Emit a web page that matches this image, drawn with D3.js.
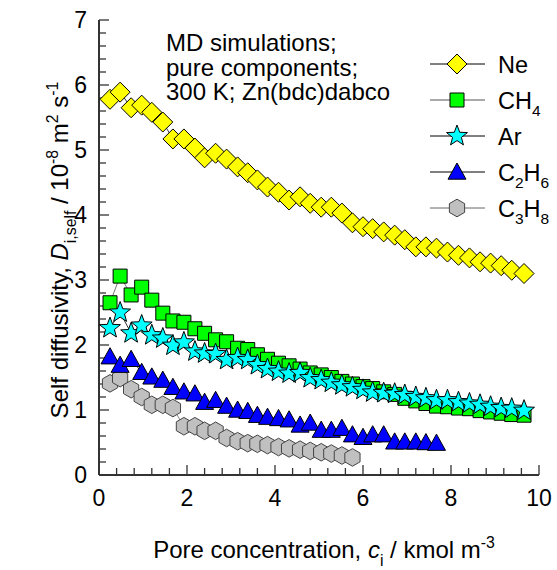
<!DOCTYPE html>
<html>
<head>
<meta charset="utf-8">
<script src="https://cdn.jsdelivr.net/npm/d3@7"></script>
<style>
  body { margin: 0; background: #fff; }
  svg { display: block; font-family: "Liberation Sans", Arial, sans-serif; }
</style>
</head>
<body>
<svg id="chart" width="557" height="570"></svg>
<script>
// Pore concentration grid, kmol m^-3 (shared by all species)
const conc = [0.25, 0.48, 0.73, 0.97, 1.20, 1.45, 1.68, 1.93, 2.18, 2.40,
              2.65, 2.90, 3.15, 3.38, 3.60, 3.83, 4.08, 4.32, 4.57, 4.80,
              5.05, 5.28, 5.52, 5.76, 6.00, 6.22, 6.47, 6.72, 6.95, 7.20,
              7.43, 7.67, 7.92, 8.17, 8.42, 8.66, 8.90, 9.14, 9.38, 9.66];

// Self diffusivities, 10^-8 m^2 s^-1
const dNe   = [5.78, 5.89, 5.65, 5.69, 5.58, 5.43, 5.17, 5.17, 5.03, 4.88,
               4.95, 4.86, 4.74, 4.65, 4.54, 4.43, 4.35, 4.23, 4.28, 4.18,
               4.12, 4.12, 4.03, 3.88, 3.82, 3.79, 3.74, 3.69, 3.62, 3.51,
               3.51, 3.49, 3.43, 3.38, 3.34, 3.28, 3.26, 3.22, 3.15, 3.10];
const dCH4  = [2.65, 3.06, 2.77, 2.89, 2.69, 2.49, 2.37, 2.35, 2.25, 2.18,
               2.08, 2.05, 1.95, 1.93, 1.85, 1.78, 1.72, 1.68, 1.63, 1.57,
               1.54, 1.50, 1.44, 1.40, 1.36, 1.33, 1.28, 1.24, 1.18, 1.14,
               1.10, 1.06, 1.05, 1.03, 1.02, 0.99, 0.97, 0.95, 0.93, 0.92];
const dAr   = [2.26, 2.50, 2.18, 2.30, 2.15, 2.10, 1.99, 2.04, 1.90, 1.87,
               1.86, 1.77, 1.80, 1.77, 1.69, 1.63, 1.59, 1.56, 1.57, 1.49,
               1.46, 1.42, 1.38, 1.35, 1.31, 1.27, 1.26, 1.25, 1.23, 1.20,
               1.18, 1.15, 1.15, 1.12, 1.10, 1.08, 1.05, 1.03, 1.02, 0.99];
const dC2H6 = [1.82, 1.69, 1.78, 1.58, 1.51, 1.46, 1.35, 1.28, 1.25, 1.12,
               1.15, 1.06, 1.00, 0.98, 0.92, 0.89, 0.87, 0.85, 0.77, 0.80,
               0.69, 0.69, 0.72, 0.62, 0.58, 0.62, 0.62, 0.51, 0.51, 0.51,
               0.50, 0.49];
const dC3H8 = [1.41, 1.49, 1.32, 1.20, 1.08, 1.08, 1.03, 0.75, 0.75, 0.68,
               0.68, 0.57, 0.52, 0.49, 0.48, 0.46, 0.43, 0.41, 0.39, 0.37,
               0.35, 0.33, 0.30, 0.27];

const xTicks = [0, 2, 4, 6, 8, 10];
const yTicks = [0, 1, 2, 3, 4, 5, 6, 7];
const noteLines = ["MD simulations;", "pure components;", "300 K; Zn(bdc)dabco"];

// ---- marker shapes -------------------------------------------------------
const shapes = {
  diamond: { draw(ctx, r) { ctx.moveTo(0, -r); ctx.lineTo(r, 0); ctx.lineTo(0, r); ctx.lineTo(-r, 0); ctx.closePath(); } },
  square:  { draw(ctx, r) { ctx.rect(-r, -r, 2 * r, 2 * r); } },
  star:    { draw(ctx, r) {
      const ri = r * 0.42;
      for (let k = 0; k < 10; k++) {
        const a = -Math.PI / 2 + k * Math.PI / 5, rr = k % 2 ? ri : r;
        k ? ctx.lineTo(rr * Math.cos(a), rr * Math.sin(a)) : ctx.moveTo(rr * Math.cos(a), rr * Math.sin(a));
      }
      ctx.closePath();
  } },
  triangle: { draw(ctx, r) { ctx.moveTo(0, -r); ctx.lineTo(r * 1.0, r * 0.8); ctx.lineTo(-r * 1.0, r * 0.8); ctx.closePath(); } },
  hexagon: { draw(ctx, r) {
      for (let k = 0; k < 6; k++) {
        const a = -Math.PI / 2 + k * Math.PI / 3;
        k ? ctx.lineTo(r * Math.cos(a), r * Math.sin(a)) : ctx.moveTo(r * Math.cos(a), r * Math.sin(a));
      }
      ctx.closePath();
  } }
};

const series = [
  { key: "C3H8", label: [["C"], ["3", "sub"], ["H"], ["8", "sub"]], values: dC3H8, shape: "hexagon", r: 8.8, fill: "#c0c0c0", stroke: "#444", line: "#666" },
  { key: "C2H6", label: [["C"], ["2", "sub"], ["H"], ["6", "sub"]], values: dC2H6, shape: "triangle", r: 9, fill: "#0000ff", stroke: "#000", line: "#000" },
  { key: "CH4",  label: [["CH"], ["4", "sub"]], values: dCH4, shape: "square", r: 7, fill: "#00ff00", stroke: "#000", line: "#555" },
  { key: "Ar",   label: [["Ar"]], values: dAr, shape: "star", r: 11, fill: "#00ffff", stroke: "#000", line: "#000" },
  { key: "Ne",   label: [["Ne"]], values: dNe, shape: "diamond", r: 10, fill: "#ffff00", stroke: "#000", line: "#000" }
];
const legendOrder = ["Ne", "CH4", "Ar", "C2H6", "C3H8"];

// ---- layout ---------------------------------------------------------------
const svg = d3.select("#chart");
const x = d3.scaleLinear().domain([0, 10]).range([99, 539]);
const y = d3.scaleLinear().domain([0, 7]).range([475, 20]);
const axisColor = "#333";

// minor + major ticks, drawn inward
const gAxes = svg.append("g").attr("stroke", axisColor).attr("stroke-width", 1.3);
d3.range(0, 10.001, 0.4).forEach(v => {
  const major = Math.abs(v / 2 - Math.round(v / 2)) < 1e-6;
  gAxes.append("line").attr("x1", x(v)).attr("x2", x(v)).attr("y1", y(0)).attr("y2", y(0) - (major ? 10 : 7));
});
d3.range(0, 7.001, 0.2).forEach(v => {
  const major = Math.abs(v - Math.round(v)) < 1e-6;
  gAxes.append("line").attr("x1", x(0)).attr("x2", x(0) + (major ? 10 : 7)).attr("y1", y(v)).attr("y2", y(v));
});
gAxes.append("line").attr("x1", x(0)).attr("x2", x(10)).attr("y1", y(0)).attr("y2", y(0)).attr("stroke-width", 2);
gAxes.append("line").attr("x1", x(0)).attr("x2", x(0)).attr("y1", y(0)).attr("y2", y(7)).attr("stroke-width", 2);

// tick labels
svg.append("g").selectAll("text").data(xTicks).join("text")
  .attr("x", d => x(d)).attr("y", 506).attr("text-anchor", "middle")
  .attr("font-size", 23).text(d => d);
svg.append("g").selectAll("text").data(yTicks).join("text")
  .attr("x", 87).attr("y", d => y(d) + 8).attr("text-anchor", "end")
  .attr("font-size", 23).text(d => d);

// rich text helper: parts are [text, kind] with kind in sub / sup / it
function rich(sel, parts, size) {
  let shift = 0;
  parts.forEach(([t, kind]) => {
    const ts = sel.append("tspan").text(t);
    let target = 0;
    if (kind === "sub") target = size * 0.33;
    if (kind === "sup") target = -size * 0.4;
    if (target !== shift) { ts.attr("dy", target - shift); shift = target; }
    if (kind === "sub" || kind === "sup") ts.attr("font-size", size * 0.66);
    if (kind === "it") ts.attr("font-style", "italic");
  });
}

// axis titles
rich(svg.append("text").attr("x", 324).attr("y", 558).attr("text-anchor", "middle").attr("font-size", 24),
  [["Pore concentration, "], ["c", "it"], ["i", "sub"], [" / kmol m"], ["-3", "sup"]], 24);
rich(svg.append("text").attr("transform", "translate(68,250) rotate(-90)").attr("text-anchor", "middle").attr("font-size", 24),
  [["Self diffusivity, "], ["D", "it"], ["i,self", "sub"], [" / 10"], ["-8", "sup"], [" m"], ["2", "sup"], [" s"], ["-1", "sup"]], 24);

// annotation
svg.append("g").selectAll("text").data(noteLines).join("text")
  .attr("x", 166).attr("y", (d, i) => 51 + i * 24.5).attr("font-size", 24).text(d => d);

// data series
const lineGen = d3.line().x(d => x(d[0])).y(d => y(d[1]));
series.forEach(s => {
  const pts = s.values.map((v, i) => [conc[i], v]);
  const g = svg.append("g");
  g.append("path").attr("d", lineGen(pts)).attr("fill", "none").attr("stroke", s.line).attr("stroke-width", 0.8);
  g.selectAll("path.m").data(pts).join("path").attr("class", "m")
    .attr("transform", d => `translate(${x(d[0])},${y(d[1])})`)
    .attr("d", d3.symbol(shapes[s.shape], s.r)())
    .attr("fill", s.fill).attr("stroke", s.stroke).attr("stroke-width", 1);
});

// legend
const lg = svg.append("g");
legendOrder.forEach((k, i) => {
  const s = series.find(d => d.key === k);
  const cy = 64 + i * 36;
  lg.append("line").attr("x1", 430).attr("x2", 485).attr("y1", cy).attr("y2", cy).attr("stroke", s.line).attr("stroke-width", 1);
  lg.append("path").attr("transform", `translate(457,${cy})`).attr("d", d3.symbol(shapes[s.shape], s.r)())
    .attr("fill", s.fill).attr("stroke", s.stroke).attr("stroke-width", 1);
  rich(lg.append("text").attr("x", 498).attr("y", cy + 8.5).attr("font-size", 23.5), s.label, 23.5);
});
</script>
</body>
</html>
